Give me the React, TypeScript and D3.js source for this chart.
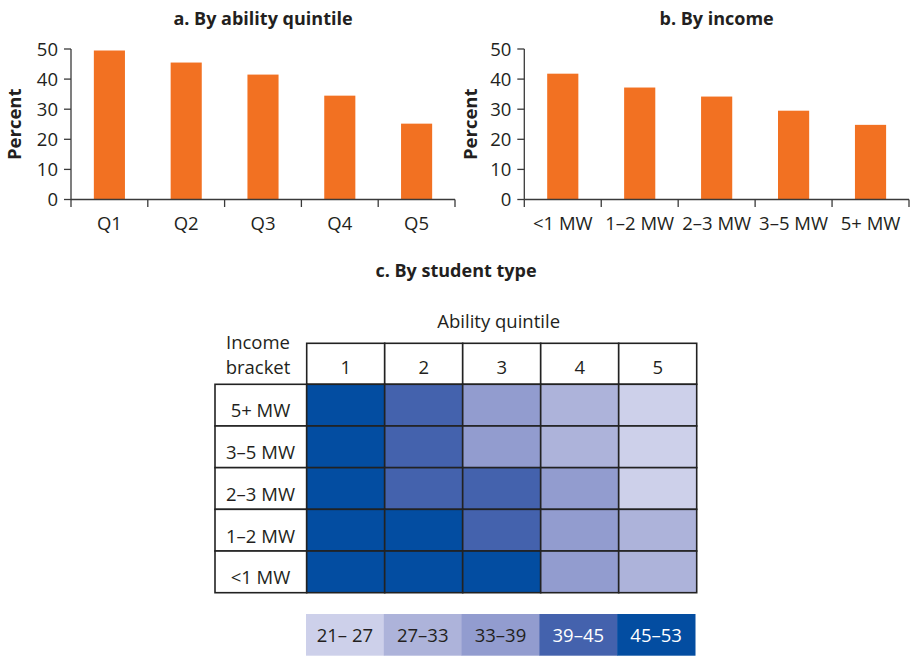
import React from 'react';
import * as d3 from 'd3';

// ---- Data ----
const abilityCats = ['Q1', 'Q2', 'Q3', 'Q4', 'Q5'];
const abilityVals = [49.5, 45.5, 41.5, 34.5, 25.2];
const incomeCats = ['<1 MW', '1–2 MW', '2–3 MW', '3–5 MW', '5+ MW'];
const incomeVals = [41.8, 37.2, 34.2, 29.5, 24.8];
const yTicks = [0, 10, 20, 30, 40, 50];
const quintiles = ['1', '2', '3', '4', '5'];
const brackets = ['5+ MW', '3–5 MW', '2–3 MW', '1–2 MW', '<1 MW'];
const binLabels = ['21– 27', '27–33', '33–39', '39–45', '45–53'];
// bin index per cell (rows = brackets, cols = quintiles)
const cellBins = [
  [4, 3, 2, 1, 0],
  [4, 3, 2, 1, 0],
  [4, 3, 3, 2, 0],
  [4, 4, 3, 2, 1],
  [4, 4, 4, 2, 1],
];

// ---- Styles ----
const palette = ['#cdd0ea', '#adb3da', '#929ccf', '#4462ad', '#034da1'];
const ORANGE = '#f27122';
const TEXT = '#231f20';
const AXIS = '#3a3a3a';
const FONT = '"Open Sans", "Noto Sans", sans-serif';
const FS = 18.5;

type BarProps = { title: string; cats: string[]; vals: number[]; x0: number; x1: number; labelX: number };

function BarPanel({ title, cats, vals, x0, x1, labelX }: BarProps) {
  const y = d3.scaleLinear().domain([0, 50]).range([199.5, 49]);
  const x = d3.scaleBand<string>().domain(cats).range([x0, x1]).padding(0);
  const bw = x.bandwidth() * 0.405;
  const bounds = cats.map((c) => x(c) as number).concat([x1]);
  return (
    <g>
      <text x={(x0 + x1) / 2} y={25} textAnchor="middle" fontWeight="bold" fontSize={18} fill={TEXT}>
        {title}
      </text>
      <text transform={`translate(${labelX},${(y(0) + y(50)) / 2}) rotate(-90)`} textAnchor="middle" fontWeight="bold" fontSize={18.5} fill={TEXT}>
        Percent
      </text>
      {cats.map((c, i) => (
        <rect key={c} x={(x(c) as number) + x.bandwidth() / 2 - bw / 2} y={y(vals[i])} width={bw} height={y(0) - y(vals[i])} fill={ORANGE} />
      ))}
      <line x1={x0} x2={x0} y1={y(50)} y2={y(0)} stroke={AXIS} strokeWidth={1.3} />
      {yTicks.map((t) => (
        <g key={t}>
          <line x1={x0 - 7} x2={x0} y1={y(t)} y2={y(t)} stroke={AXIS} strokeWidth={1.3} />
          <text x={x0 - 13} y={y(t) + 6.8} textAnchor="end" fontSize={FS} fill={TEXT}>
            {t}
          </text>
        </g>
      ))}
      <line x1={x0} x2={x1} y1={y(0)} y2={y(0)} stroke={AXIS} strokeWidth={1.3} />
      {bounds.map((b, i) => (
        <line key={i} x1={b} x2={b} y1={y(0)} y2={y(0) + 7.5} stroke={AXIS} strokeWidth={1.3} />
      ))}
      {cats.map((c) => (
        <text key={c} x={(x(c) as number) + x.bandwidth() / 2} y={229.5} textAnchor="middle" fontSize={FS} fill={TEXT}>
          {c}
        </text>
      ))}
    </g>
  );
}

function Heatmap() {
  const gx0 = 306.7;
  const gx1 = 696.7;
  const labelX0 = 215;
  const headTop = 343.3;
  const rowTop = 384.3;
  const rowBot = 592.7;
  const x = d3.scaleBand<string>().domain(quintiles).range([gx0, gx1]);
  const y = d3.scaleBand<string>().domain(brackets).range([rowTop, rowBot]);
  const color = d3.scaleOrdinal<number, string>().domain([0, 1, 2, 3, 4]).range(palette);
  const lx = d3.scaleBand<string>().domain(binLabels).range([gx0 - 0.7, gx1 - 1.7]);
  const stroke = '#222';
  return (
    <g>
      <text x={456} y={277} textAnchor="middle" fontWeight="bold" fontSize={18} fill={TEXT}>
        c. By student type
      </text>
      <text x={498.7} y={328} textAnchor="middle" fontSize={FS} fill={TEXT}>
        Ability quintile
      </text>
      <text x={258} y={349} textAnchor="middle" fontSize={FS} fill={TEXT}>
        Income
      </text>
      <text x={258} y={374} textAnchor="middle" fontSize={FS} fill={TEXT}>
        bracket
      </text>
      {/* header row */}
      {quintiles.map((q) => (
        <g key={q}>
          <rect x={x(q)} y={headTop} width={x.bandwidth()} height={rowTop - headTop} fill="#fff" stroke={stroke} strokeWidth={1.6} />
          <text x={(x(q) as number) + x.bandwidth() / 2} y={374} textAnchor="middle" fontSize={FS} fill={TEXT}>
            {q}
          </text>
        </g>
      ))}
      {brackets.map((b, r) => (
        <g key={b}>
          <rect x={labelX0} y={y(b)} width={gx0 - labelX0} height={y.bandwidth()} fill="#fff" stroke={stroke} strokeWidth={1.6} />
          <text x={260.5} y={(y(b) as number) + y.bandwidth() - 8.5} textAnchor="middle" fontSize={FS} fill={TEXT}>
            {b}
          </text>
          {quintiles.map((q, c) => (
            <rect key={q} x={x(q)} y={y(b)} width={x.bandwidth()} height={y.bandwidth()} fill={color(cellBins[r][c])} stroke={stroke} strokeWidth={1.6} />
          ))}
        </g>
      ))}
      {/* legend */}
      {binLabels.map((l, i) => (
        <g key={l}>
          <rect x={lx(l)} y={614} width={lx.bandwidth() + 0.5} height={41.7} fill={color(i)} />
          <text x={(lx(l) as number) + lx.bandwidth() / 2} y={642} textAnchor="middle" fontSize={FS} fill={i >= 3 ? '#fff' : TEXT}>
            {l}
          </text>
        </g>
      ))}
    </g>
  );
}

export default function App() {
  return (
    <svg
      width={912}
      height={656}
      viewBox="0 0 912 656"
      style={{ position: 'absolute', left: 0, top: 0, background: '#fff', fontFamily: FONT }}
    >
      <rect width={912} height={656} fill="#fff" />
      <BarPanel title="a. By ability quintile" cats={abilityCats} vals={abilityVals} x0={71} x1={455} labelX={20.5} />
      <BarPanel title="b. By income" cats={incomeCats} vals={incomeVals} x0={524.3} x1={909} labelX={476.5} />
      <Heatmap />
    </svg>
  );
}
